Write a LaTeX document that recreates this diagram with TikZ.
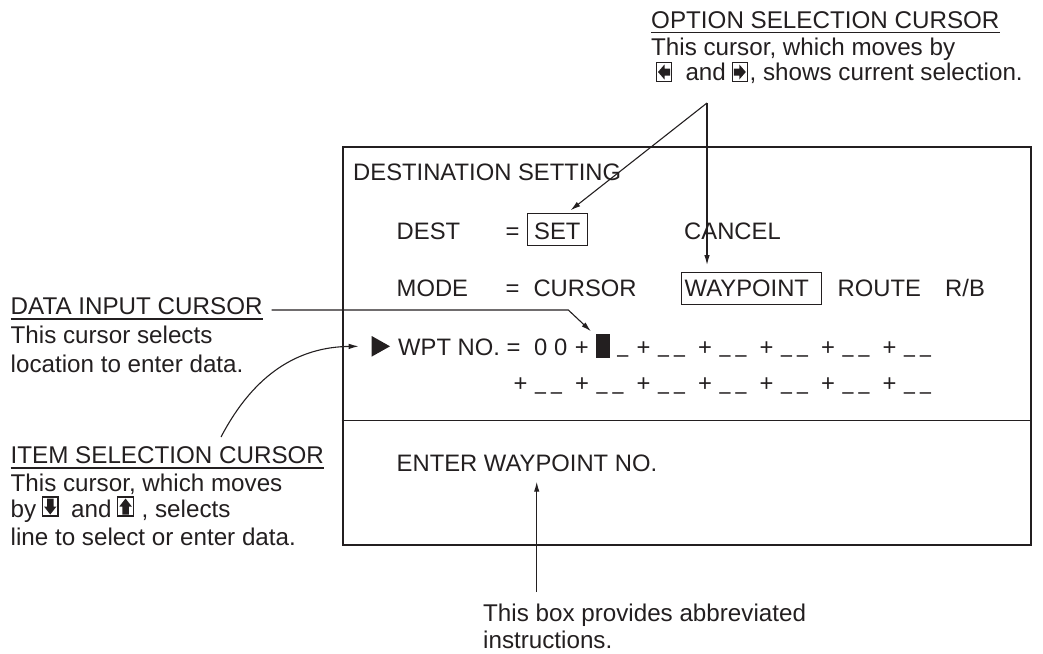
\documentclass[tikz,border=0pt]{standalone}
\usepackage{fontspec}
\setmainfont{Liberation Sans}
\usetikzlibrary{arrows.meta}
\definecolor{ink}{HTML}{231F20}
\newcommand\usc{\scalebox{0.82}[1]{\_}}
\tikzset{
  ct/.style={font=\fontsize{24.2}{29}\selectfont, inner sep=0pt, anchor=base west, text=ink},
  sc/.style={font=\fontsize{23.8}{29}\selectfont, inner sep=0pt, anchor=base west, text=ink},
  sg/.style={font=\fontsize{23.8}{29}\selectfont, inner sep=0pt, anchor=base, text=ink},
  arr/.style={draw=ink, line width=1.1pt, -{Latex[length=10pt,width=5.5pt]}},
  ul/.style={draw=ink, line width=1.3pt},
  keyframe/.style={draw=ink, line width=1.2pt},
  selbox/.style={draw=ink, line width=1.1pt, inner sep=0pt, anchor=north west},
  keyL/.pic={\draw[keyframe] (0,0) rectangle (15,19);
    \fill[ink] (1.5,9.5) -- (8,2) -- (8,6) -- (13.5,6) -- (13.5,13) -- (8,13) -- (8,17) -- cycle;},
  keyR/.pic={\draw[keyframe] (0,0) rectangle (15,19);
    \fill[ink] (13.5,9.5) -- (7,2) -- (7,6) -- (1.5,6) -- (1.5,13) -- (7,13) -- (7,17) -- cycle;},
  keyD/.pic={\draw[keyframe] (0,0) rectangle (15.5,19);
    \fill[ink] (7.75,17.5) -- (1.5,9.5) -- (4.5,9.5) -- (4.5,1.5) -- (11,1.5) -- (11,9.5) -- (14,9.5) -- cycle;},
  keyU/.pic={\draw[keyframe] (0,0) rectangle (15.5,19);
    \fill[ink] (7.75,1.5) -- (1.5,9.5) -- (4.5,9.5) -- (4.5,17.5) -- (11,17.5) -- (11,9.5) -- (14,9.5) -- cycle;}
}
\begin{document}
\begin{tikzpicture}[x=1pt,y=-1pt]
\useasboundingbox (0,0) rectangle (1043,653);

% ---- screen box
\node[draw=ink, line width=2.4pt, inner sep=0pt, minimum width=688.5pt, minimum height=398pt, anchor=north west] (screen) at (341.5,146) {};
\coordinate (divL) at (341.5,420.7);
\coordinate (divR) at (1030,420.7);
\draw[ink, line width=1.5pt] (divL) -- (divR);

\node[sc] (title) at (353,180) {DESTINATION SETTING};
\node[sc] (dest) at (396.5,239) {DEST};
\node[sc] (eq1) at (505.5,239) {=};
\node[selbox, minimum width=60pt, minimum height=32pt] (setbox) at (527.3,213.3) {};
\node[sc] (setT) at (534,239) {SET};
\node[sc] (cancel) at (684,239) {CANCEL};

\node[sc] (mode) at (396.5,296.7) {MODE};
\node[sc] (eq2) at (505.5,296.7) {=};
\node[sc] (cursor) at (533.3,296.7) {CURSOR};
\node[selbox, minimum width=140pt, minimum height=31.7pt] (wpbox) at (680.7,272.3) {};
\node[sc] (wpT) at (684.5,296.7) {WAYPOINT};
\node[sc] (route) at (837.5,296.7) {ROUTE};
\node[sc] (rb) at (945,296.7) {R/B};

\coordinate (tri) at (371.7,346.3);
\fill[ink] (tri) ++(0,-10.3) -- ++(18.3,10.3) -- ++(-18.3,10.3) -- cycle;
\node[sc] (wpt) at (398,355) {WPT NO. =};
\node[sc] (z1) at (534,355) {0};
\node[sc] (z2) at (554,355) {0};
\node[sg] (p11) at (581.9,355) {+};
\node[fill=ink, inner sep=0pt, minimum width=13.3pt, minimum height=24pt, anchor=north west] (blk) at (596,333.3) {};
\node[sg] (u11) at (622.9,352.5) {\usc};
\foreach \k in {2,...,6} {
  \pgfmathsetmacro\P{520.5+61.5*\k}
  \node[sg] (p1\k) at (\P,355) {+};
  \node[sg] (u1a\k) at (\P+20,352.5) {\usc};
  \node[sg] (u1b\k) at (\P+36,352.5) {\usc};
}
\foreach \k in {0,...,6} {
  \pgfmathsetmacro\P{520.5+61.5*\k}
  \node[sg] (p2\k) at (\P,391.7) {+};
  \node[sg] (u2a\k) at (\P+20,389.2) {\usc};
  \node[sg] (u2b\k) at (\P+36,389.2) {\usc};
}
\node[sc] (enter) at (396.5,471.7) {ENTER WAYPOINT NO.};

% ---- option selection cursor callout
\node[ct] (opt) at (651,28.3) {OPTION SELECTION CURSOR};
\draw[ul] ([yshift=-4pt]opt.base west) -- ([yshift=-4pt]opt.base east);
\node[ct] (opt2) at (651,55.5) {This cursor, which moves by};
\pic at (656.5,62.5) {keyL};
\node[ct] (optand) at (685.3,80.5) {and};
\pic at (732.3,62.5) {keyR};
\node[ct] (opt3) at (749.5,80.5) {, shows current selection.};
\coordinate (optapex) at (707,103);
\coordinate (wptip) at (707,265);
\draw[arr] (optapex) -- ([xshift=12.7pt,yshift=3pt]setbox.north);
\draw[arr] (optapex) -- (wptip);

% ---- data input cursor callout
\node[ct] (data) at (10.5,314) {DATA INPUT CURSOR};
\draw[ul] ([yshift=-5pt]data.base west) -- ([yshift=-5pt]data.base east);
\node[ct] (data2) at (10.5,343.5) {This cursor selects};
\node[ct] (data3) at (10.5,372.5) {location to enter data.};
\coordinate (dstart) at (271.7,310);
\coordinate (dbend) at (568.3,310);
\draw[arr] (dstart) -- (dbend) -- ([xshift=-5pt,yshift=2pt]blk.north west);

% ---- item selection cursor callout
\node[ct] (item) at (10.5,463) {ITEM SELECTION CURSOR};
\draw[ul] ([yshift=-5pt]item.base west) -- ([yshift=-5pt]item.base east);
\node[ct] (item2) at (10.5,491) {This cursor, which moves};
\node[ct] (itemby) at (10.5,517.5) {by};
\pic at (42.5,497) {keyD};
\node[ct] (itemand) at (71,517.5) {and};
\pic at (117.8,497) {keyU};
\node[ct] (item3) at (141.5,517.5) {, selects};
\node[ct] (item4) at (10.5,545) {line to select or enter data.};
\coordinate (istart) at (221,437);
\draw[arr] (istart) .. controls (255,372) and (300,347) .. ([xshift=-13pt]tri);

% ---- instruction callout
\node[ct] (cap1) at (483,621.5) {This box provides abbreviated};
\node[ct] (cap2) at (483,648.5) {instructions.};
\coordinate (instart) at (536.7,592);
\coordinate (intip) at (536.7,481.7);
\draw[arr] (instart) -- (intip);
\end{tikzpicture}
\end{document}
